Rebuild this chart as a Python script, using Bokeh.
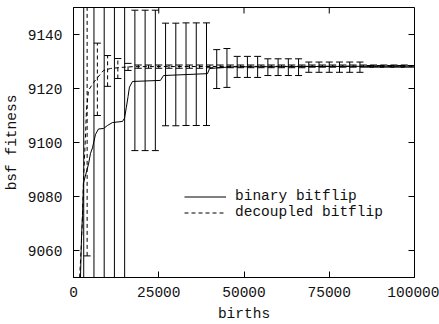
import math
from bokeh.plotting import figure
from bokeh.models import (Range1d, FixedTicker, BasicTickFormatter,
                          Legend, LegendItem, ColumnDataSource)
from bokeh.embed import file_html
from bokeh.resources import INLINE

# ---- data ----
binary_x = [1700, 2050, 2350, 2640, 2930, 4400, 4990, 5570, 6450, 7330, 8800, 9970,
            11440, 14370, 14960, 15500, 16000, 16400, 17300, 25500, 26400, 39300,
            39900, 46000, 100000]
binary_y = [9040, 9050, 9065, 9073, 9085, 9092, 9096, 9098, 9103, 9105, 9105.2, 9106.3,
            9107.4, 9107.8, 9109, 9113, 9117, 9120.5, 9122.6, 9123, 9124.8, 9125.5,
            9127.4, 9128, 9128.3]

decoupled_x = [1800, 2300, 2700, 2930, 3500, 3800, 4400, 5870, 7040, 8800, 10850,
               13800, 17600, 100000]
decoupled_y = [9050, 9062, 9075, 9086, 9102, 9112, 9119.3, 9122.2, 9124, 9126.7,
               9127.4, 9127.8, 9128.1, 9128.3]

binary_bar_x = [3000, 6000, 9000, 12000, 15000, 18000, 21000, 24000, 27000, 30000,
                33000, 36000, 39000, 42000, 45000, 48000, 51000, 54000, 57000, 60000,
                63000, 66000, 69000, 72000, 75000, 78000, 81000, 84000, 87000, 90000,
                93000, 96000, 99000]
binary_bar_mean = [9080, 9101, 9106, 9107.5, 9110, 9123, 9123, 9123, 9125.2, 9125.2,
                   9125.3, 9125.3, 9125.3, 9127.2, 9127.6, 9128, 9128, 9128, 9127.9,
                   9127.9, 9127.9, 9127.9, 9127.9, 9127.9, 9127.9, 9127.9, 9127.9,
                   9127.9, 9128.2, 9128.2, 9128.2, 9128.2, 9128.2]
binary_bar_std = [150, 150, 150, 150, 150, 26, 26, 26, 19, 19, 19, 19, 19, 7.2, 7.2,
                  3.9, 3.9, 3.9, 3.1, 3.1, 3.1, 3.1, 1.9, 1.9, 1.9, 1.9, 1.9, 1.9,
                  0.3, 0.3, 0.3, 0.3, 0.3]

decoupled_bar_x = [4000, 7000, 10000, 13000, 16000, 19000, 22000, 25000, 28000, 31000,
                   34000, 37000, 40000, 43000, 46000, 49000, 52000, 55000, 58000, 61000,
                   64000, 67000, 70000, 73000, 76000, 79000, 82000, 85000, 88000, 91000,
                   94000, 97000]
decoupled_bar_mean = [9110, 9123.4, 9126.5, 9127.4, 9128, 9128.1, 9128.1, 9128.1,
                      9128.1, 9128.1, 9128.1, 9128.1, 9128.2, 9128.2, 9128.2, 9128.2,
                      9128.2, 9128.2, 9128.2, 9128.2, 9128.2, 9128.2, 9128.3, 9128.3,
                      9128.3, 9128.3, 9128.3, 9128.3, 9128.3, 9128.3, 9128.3, 9128.3]
decoupled_bar_std = [52, 13.4, 5.7, 3.7, 1.3, 0.6, 0.6, 0.6, 0.6, 0.6, 0.6, 0.6, 0.5,
                     0.5, 0.5, 0.5, 0.5, 0.5, 0.5, 0.5, 0.5, 0.5, 0.4, 0.4, 0.4, 0.4,
                     0.4, 0.4, 0.4, 0.4, 0.4, 0.4]

x_ticks = [0, 25000, 50000, 75000, 100000]
y_ticks = [9060, 9080, 9100, 9120, 9140]
x_lim = [0, 100000]
y_lim = [9050, 9150]

FONT = "Liberation Mono"
FS = "14.5px"
DASH = "4 3"
TXT = "#111111"

p = figure(width=439, height=324, x_range=Range1d(*x_lim), y_range=Range1d(*y_lim),
           output_backend="svg", toolbar_location=None,
           min_border_left=73, min_border_right=25, min_border_top=7, min_border_bottom=47)
p.grid.visible = False
p.outline_line_color = "black"
p.outline_line_width = 1
p.background_fill_color = "white"
p.border_fill_color = "white"

def style_axis(ax, ticks):
    ax.ticker = FixedTicker(ticks=ticks)
    ax.formatter = BasicTickFormatter(use_scientific=False)
    ax.axis_line_color = "black"
    ax.major_tick_line_color = "black"
    ax.major_tick_in = 6
    ax.major_tick_out = 0
    ax.minor_tick_line_color = None
    ax.major_label_text_font = FONT
    ax.major_label_text_font_size = FS
    ax.major_label_text_color = TXT
    ax.axis_label_text_font = FONT
    ax.axis_label_text_font_size = FS
    ax.axis_label_text_font_style = "normal"
    ax.axis_label_text_color = TXT

style_axis(p.xaxis[0], x_ticks)
p.xaxis[0].axis_label = "births"
p.xaxis[0].major_label_standoff = 9
p.xaxis[0].axis_label_standoff = 6
style_axis(p.yaxis[0], y_ticks)
p.yaxis[0].axis_label = "bsf fitness"
p.yaxis[0].major_label_standoff = 11
p.yaxis[0].axis_label_standoff = 5

# mirrored inward ticks on top and right edges (half of each mark is clipped by the frame)
p.scatter(x=x_ticks, y=[y_lim[1]] * len(x_ticks), marker="dash", size=12,
          angle=math.pi / 2, line_color="black", line_width=1)
p.scatter(x=[x_lim[1]] * len(y_ticks), y=y_ticks, marker="dash", size=12,
          line_color="black", line_width=1)

# mean curves
r_bin = p.line(binary_x, binary_y, line_color="black", line_width=1)
r_dec = p.line(decoupled_x, decoupled_y, line_color="black", line_width=1, line_dash=DASH)

# error bars
def bars(xs, means, stds, dash):
    up = [m + s for m, s in zip(means, stds)]
    lo = [m - s for m, s in zip(means, stds)]
    src = ColumnDataSource(dict(x=xs, up=up, lo=lo))
    p.segment(x0="x", y0="lo", x1="x", y1="up", source=src, line_color="black",
              line_width=1, line_dash=dash)
    p.scatter(x="x", y="up", source=src, marker="dash", size=7, line_color="black",
              line_width=1)
    p.scatter(x="x", y="lo", source=src, marker="dash", size=7, line_color="black",
              line_width=1)

bars(binary_bar_x, binary_bar_mean, binary_bar_std, "solid")
bars(decoupled_bar_x, decoupled_bar_mean, decoupled_bar_std, DASH)

legend = Legend(items=[LegendItem(label="binary bitflip", renderers=[r_bin]),
                       LegendItem(label="decoupled bitflip", renderers=[r_dec])],
                location=(111, 57), orientation="vertical", padding=0, spacing=0,
                margin=0, glyph_width=42, glyph_height=15, label_height=15,
                label_standoff=9, label_text_font=FONT, label_text_font_size=FS,
                label_text_color=TXT, border_line_alpha=0,
                background_fill_alpha=0)
p.add_layout(legend)

open("out.html", "w").write(file_html(p, INLINE))
